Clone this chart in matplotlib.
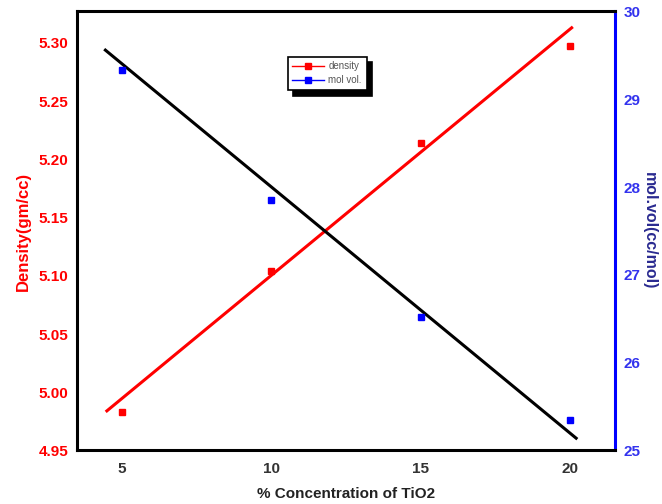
import matplotlib.pyplot as plt
from matplotlib.lines import Line2D

plt.rcParams['font.family'] = ['Liberation Sans', 'DejaVu Sans']

# TiO2 concentration (%)
conc = [5, 10, 15, 20]
density = [4.983, 5.104, 5.214, 5.297]     # gm/cc
mol_vol = [29.33, 27.85, 26.52, 25.35]     # cc/mol

# straight-line fits drawn through each series
density_fit_x = [4.5, 20.05]
density_fit_y = [4.984, 5.313]
molvol_fit_x = [4.45, 20.2]
molvol_fit_y = [29.56, 25.14]

x_ticks = [5, 10, 15, 20]
dens_ticks = [4.95, 5.00, 5.05, 5.10, 5.15, 5.20, 5.25, 5.30]
vol_ticks = [25, 26, 27, 28, 29, 30]

red = '#ff0000'
blue = '#0000ff'

fig = plt.figure(figsize=(6.62, 5.04), dpi=100)
ax = fig.add_axes([0.1163, 0.1062, 0.8127, 0.8710])
ax2 = ax.twinx()

ax.plot(density_fit_x, density_fit_y, color=red, lw=2.2, zorder=2)
ax.plot(conc, density, 's', color=red, ms=5, zorder=3)
ax2.plot(molvol_fit_x, molvol_fit_y, color='black', lw=2.2, zorder=2)
ax2.plot(conc, mol_vol, 's', color=blue, ms=5, zorder=3)

ax.set_xlim(3.5, 21.5)
ax.set_ylim(4.95, 5.327)
ax2.set_ylim(25, 30)

ax.set_xticks(x_ticks)
ax.set_yticks(dens_ticks)
ax.set_yticklabels([f'{v:.2f}' for v in dens_ticks])
ax2.set_yticks(vol_ticks)

ax.tick_params(axis='x', length=0, pad=8, labelsize=11, labelcolor='#333333')
ax.tick_params(axis='y', length=0, pad=6, labelsize=11, labelcolor=red)
ax2.tick_params(axis='y', length=0, pad=6, labelsize=11, labelcolor='#3333ee')
for lab in ax.get_xticklabels() + ax.get_yticklabels() + ax2.get_yticklabels():
    lab.set_fontweight('bold')

for sp in ['left', 'bottom', 'top']:
    ax2.spines[sp].set_color('black')
    ax2.spines[sp].set_linewidth(2.2)
ax2.spines['right'].set_color(blue)
ax2.spines['right'].set_linewidth(2.2)

ax.set_ylabel('Density(gm/cc)', color=red, fontsize=12, fontweight='bold', labelpad=6)
ax2.set_ylabel('mol.vol(cc/mol)', color='#2a2a90', fontsize=11.5, fontweight='bold',
               rotation=-90, labelpad=12)
ax.set_xlabel('% Concentration of TiO2', color='#222222', fontsize=11,
              fontweight='bold', labelpad=8)

handles = [
    Line2D([], [], color=red, lw=1, marker='s', ms=4),
    Line2D([], [], color=blue, lw=1, marker='s', ms=4),
]
leg = ax2.legend(handles, ['density', 'mol vol.'], loc='center',
                 bbox_to_anchor=(0.465, 0.859), fontsize=7, frameon=True,
                 fancybox=False, shadow={'color': 'black', 'alpha': 1, 'ox': 4, 'oy': -4},
                 handlelength=3.2, handletextpad=0.5, borderpad=0.5, labelspacing=0.4)
leg.get_frame().set_edgecolor('black')
leg.get_frame().set_linewidth(1.2)
for t in leg.get_texts():
    t.set_color('#555555')

fig.savefig('out.png', dpi=100)
